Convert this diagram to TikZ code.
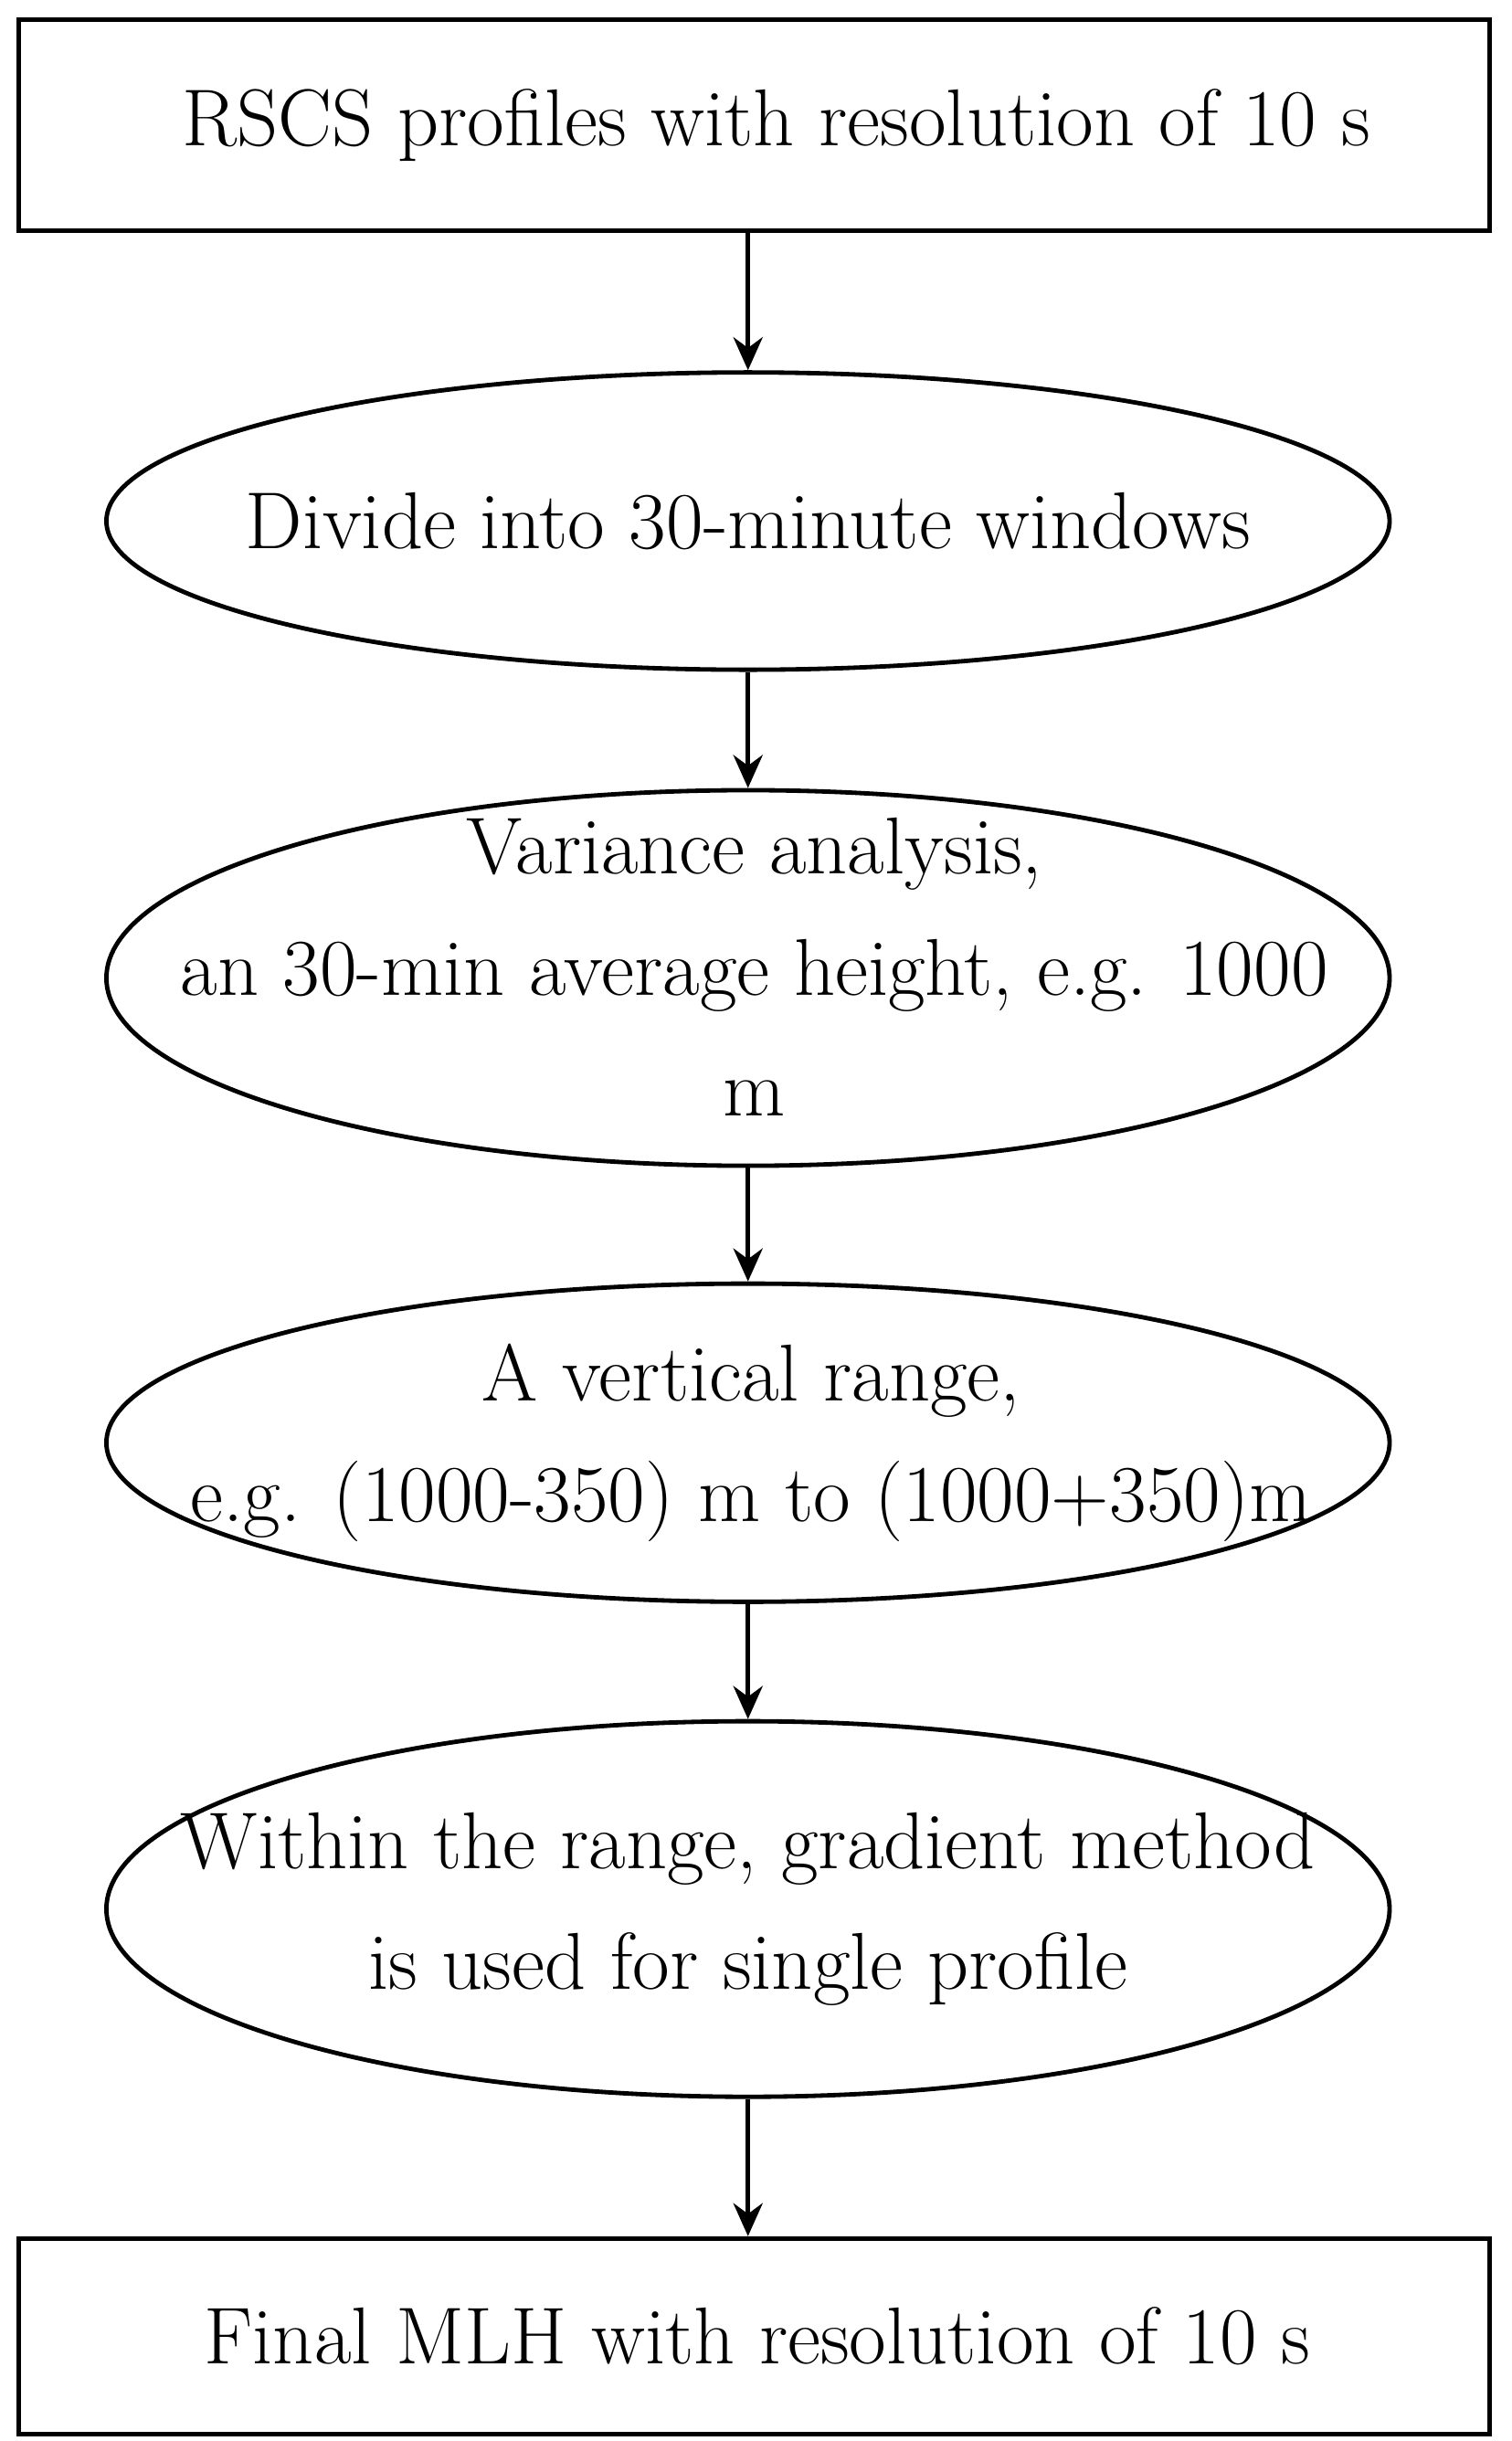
\documentclass[tikz,border=0pt]{standalone}
\usetikzlibrary{shapes.geometric,arrows.meta}
\begin{document}
\begin{tikzpicture}[x=0.03cm,y=-0.03cm,
  box/.style={draw,line width=2.4pt,minimum width=28.2cm,inner sep=0pt},
  ell/.style={draw,ellipse,line width=2.4pt,inner sep=0pt},
  txt/.style={align=center,font=\fontsize{44}{66}\selectfont},
  arr/.style={line width=2.4pt,-{Stealth[length=18pt,width=16pt]}}]
\useasboundingbox (0,0) rectangle (966,1560);
\node[box,minimum height=4.05cm] (b1) at (482,80) {};
\node[txt] (t1) at (496,80) {RSCS profiles with resolution of 10 s};
\node[ell,minimum width=24.6cm,minimum height=5.7cm] (e1) at (478,333) {};
\node[txt] (t2) at (478,333) {Divide into 30-minute windows};
\node[ell,minimum width=24.6cm,minimum height=7.2cm] (e2) at (478,625) {};
\node[txt] (t3) at (482,618) {Variance analysis,\\ an 30-min average height, e.g. 1000\\ m};
\node[ell,minimum width=24.6cm,minimum height=6.1cm] (e3) at (478,922) {};
\node[txt] (t4) at (480,922) {A vertical range,\\ e.g. (1000-350) m to (1000+350)m};
\node[ell,minimum width=24.6cm,minimum height=7.2cm] (e4) at (478,1220) {};
\node[txt] (t5) at (478,1220) {Within the range, gradient method\\ is used for single profile};
\node[box,minimum height=3.75cm] (b2) at (482,1493) {};
\node[txt] (t6) at (484,1493) {Final MLH with resolution of 10 s};
\draw[arr] (e1.north |- b1.south) -- (e1.north);
\draw[arr] (e1.south) -- (e2.north);
\draw[arr] (e2.south) -- (e3.north);
\draw[arr] (e3.south) -- (e4.north);
\draw[arr] (e4.south) -- (e4.south |- b2.north);
\end{tikzpicture}
\end{document}
